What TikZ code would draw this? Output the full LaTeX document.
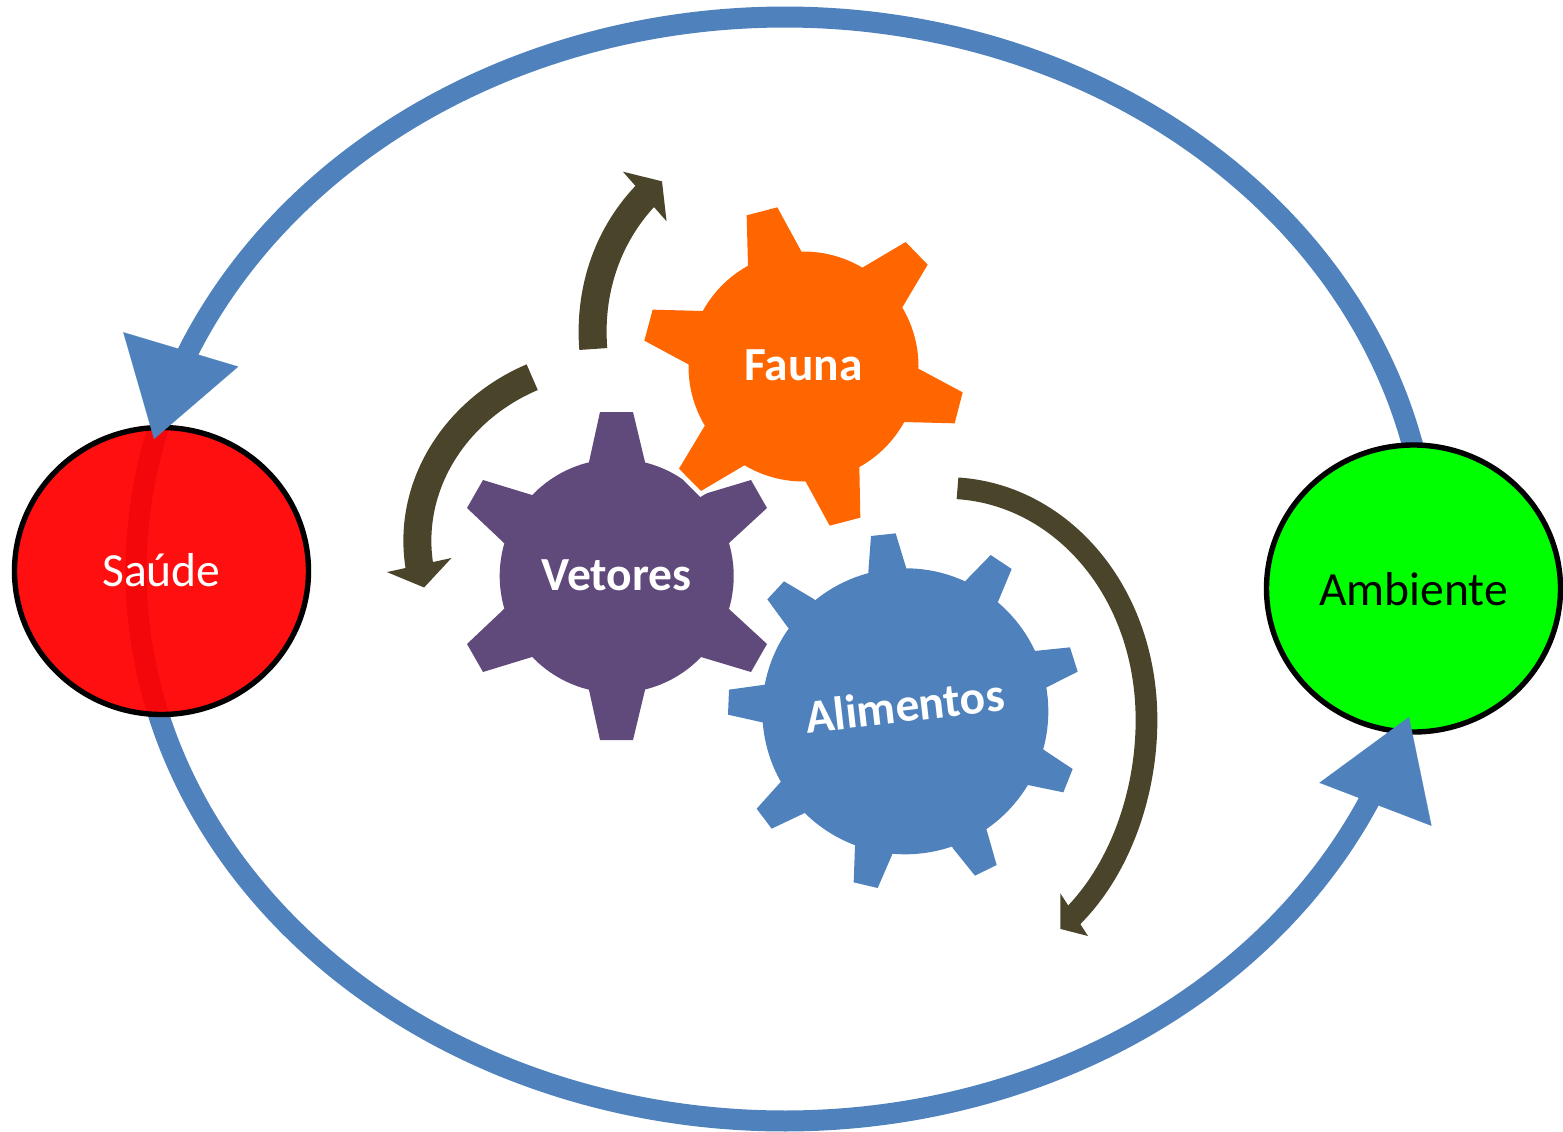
\documentclass[tikz,border=0pt]{standalone}
\usepackage{fontspec}
\setmainfont{Carlito}
\usetikzlibrary{arrows.meta,shapes.geometric}
\definecolor{ringblue}{HTML}{4F81BD}
\definecolor{gearpurple}{HTML}{604A7B}
\definecolor{gearorange}{HTML}{FF6600}
\definecolor{olivedark}{HTML}{4A452A}
\tikzset{
  hub/.style={ellipse,draw=black,line width=5.4pt,inner sep=0pt,text depth=0pt,minimum width=294pt,minimum height=287pt,font=\fontsize{47.6}{50}\selectfont},
  gearbody/.style={circle,inner sep=0pt,outer sep=0pt,text=white,text depth=0pt,font=\fontsize{47.5}{50}\selectfont\bfseries},
  ringline/.style={draw=ringblue,line width=21pt,line join=round},
  ringhead/.style={ringblue,line width=0.1pt,-{Triangle[length=93.5pt,width=120pt]}},
  turnarrow/.style={draw=olivedark,line width=28pt,-{Triangle[length=23pt,width=65pt]}},
  turnshaft/.style={draw=olivedark,line width=21.7pt,line join=round},
}
\begin{document}
\begin{tikzpicture}[x=1pt,y=-1pt]
\useasboundingbox (0,0) rectangle (1563,1132);
% upper ring shaft runs under the green hub
\coordinate (ambOut) at (1414.5,450);
\coordinate (upperBase) at (181.2,348);
\coordinate (upperTip) at (154,439);
\draw[ringline] (ambOut) -- plot[domain=13.3:90,samples=50,smooth] ({785+644.5*cos(\x)},{571-554*sin(\x)})
   -- plot[domain=90:162,samples=50,smooth] ({785+650*cos(\x)},{571-554*sin(\x)});
\node[hub,fill=green,text=black,text height=33pt] (ambiente) at (1413.5,588.5) {Ambiente};
% lower ring shaft shows through the red hub
\coordinate (saudeIn) at (156,430);
\coordinate (lowerBase) at (1375.3,804.7);
\coordinate (lowerTip) at (1409,717);
\draw[ringline] (saudeIn) -- plot[domain=165.2:270,samples=70,smooth] ({785+649*cos(\x)},{571-550*sin(\x)})
   -- plot[domain=270:340,samples=50,smooth] ({785+643*cos(\x)},{571-550*sin(\x)});
\node[hub,fill=red,fill opacity=.94,text opacity=1,draw opacity=1,text=white,text height=31.4pt] (saude) at (161.5,571) {Saúde};
\draw[ringhead] (upperBase) -- (upperTip);
\draw[ringhead] (lowerBase) -- (lowerTip);
% Vetores gear
\fill[gearpurple] (616.7,576)--(589,462)--(600,412)--(633,412)--(645,462)--cycle;
\fill[gearpurple] (616.7,576)--(701,495)--(751,480)--(767,508)--(729,543)--cycle;
\fill[gearpurple] (616.7,576)--(729,609)--(767,644)--(751,672)--(701,657)--cycle;
\fill[gearpurple] (616.7,576)--(645,690)--(633,740)--(600,740)--(589,690)--cycle;
\fill[gearpurple] (616.7,576)--(532,657)--(483,672)--(467,644)--(504,609)--cycle;
\fill[gearpurple] (616.7,576)--(504,543)--(467,508)--(483,480)--(532,495)--cycle;
\node[gearbody,fill=gearpurple,minimum size=234pt,text height=28pt] (vetores) at (616.7,576) {Vetores};
% Fauna gear, with its white edge over Vetores
\begin{scope}[shift={(620,190)},x=0.33333pt,y=-0.33333pt]
\draw[white,line width=9.5pt,line join=miter,fill=white] (373,826)--(243,903)--(177,836)--(255,706)--cycle;
\fill[gearorange] (550,530)--(384,230)--(380,76)--(472,52)--(545,186)--cycle;
\fill[gearorange] (550,530)--(727,233)--(857,156)--(923,224)--(847,352)--cycle;
\fill[gearorange] (550,530)--(895,536)--(1028,607)--(1004,700)--(851,696)--cycle;
\fill[gearorange] (550,530)--(718,830)--(721,983)--(629,1007)--(556,873)--cycle;
\fill[gearorange] (550,530)--(373,826)--(243,903)--(177,836)--(255,706)--cycle;
\fill[gearorange] (550,530)--(207,524)--(73,452)--(98,359)--(250,363)--cycle;
\end{scope}
\node[gearbody,fill=gearorange,minimum size=230pt,text height=27pt] (fauna) at (803.5,366.5) {Fauna};
% Alimentos gear
\begin{scope}[shift={(720,520)},x=0.33333pt,y=-0.33333pt]
\fill[ringblue] (556,574)--(445,155)--(453,48)--(527,40)--(558,142)--cycle;
\fill[ringblue] (556,574)--(737,182)--(812,105)--(875,147)--(835,243)--cycle;
\fill[ringblue] (556,574)--(943,393)--(1050,382)--(1073,455)--(978,503)--cycle;
\fill[ringblue] (556,574)--(969,688)--(1058,747)--(1030,817)--(924,795)--cycle;
\fill[ringblue] (556,574)--(800,930)--(830,1035)--(765,1067)--(698,984)--cycle;
\fill[ringblue] (556,574)--(516,1005)--(473,1104)--(401,1087)--(405,978)--cycle;
\fill[ringblue] (556,574)--(252,880)--(155,926)--(110,866)--(182,786)--cycle;
\fill[ringblue] (556,574)--(131,608)--(24,584)--(27,509)--(135,494)--cycle;
\fill[ringblue] (556,574)--(204,323)--(142,238)--(192,184)--(283,238)--cycle;
\end{scope}
\node[gearbody,fill=ringblue,minimum size=286pt,rotate=6.5,text height=21.4pt] (alimentos) at (905.3,711.3) {Alimentos};
% turning arrows
\coordinate (aStart) at (593.3,349);
\coordinate (aBase) at (644.5,196.7);
\coordinate (aTip) at (662,181.3);
\draw[turnarrow] (aStart) .. controls (588.8,293) and (606,238) .. (aBase) -- (aTip);
\coordinate (bStart) at (532.2,377.2);
\coordinate (bBase) at (419.2,565);
\coordinate (bTip) at (424.1,587.5);
\draw[turnarrow] (bStart) .. controls (457,409) and (407,484) .. (bBase) -- (bTip);
\coordinate (cStart) at (957.5,488.3);
\coordinate (cMid) at (1146.5,720);
\coordinate (cBase) at (1074.5,914.5);
\coordinate (cIn) at (1070.5,919);
\coordinate (cBarbA) at (1060.3,893.3);
\coordinate (cTip) at (1060.3,928.9);
\coordinate (cBarbB) at (1088,936);
\draw[turnshaft] (cStart) .. controls (1062,495) and (1146.5,592) .. (cMid)
   .. controls (1146.5,794.5) and (1119.5,868.3) .. (cBase) -- (cIn);
\fill[olivedark] (cBarbA) -- (cTip) -- (cBarbB) -- cycle;
\end{tikzpicture}
\end{document}
